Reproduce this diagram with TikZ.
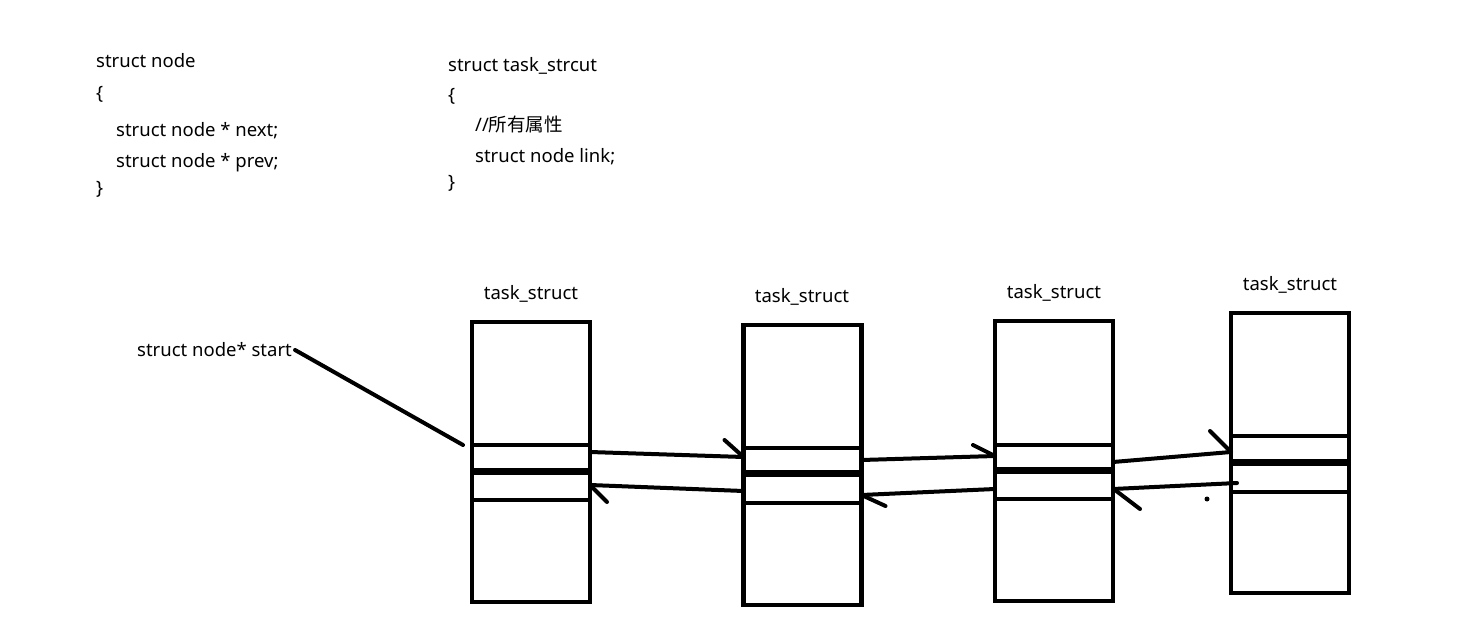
\documentclass[tikz,border=0pt]{standalone}
\usepackage{fontspec}
\setmainfont{Noto Sans}
\newfontfamily\cjk{Noto Sans CJK SC}
\begin{document}
\begin{tikzpicture}[x=1pt,y=-1pt,
  txt/.style={anchor=base west,inner sep=0pt,font=\fontsize{18.5}{22}\selectfont},
  lbl/.style={anchor=base,inner sep=0pt,font=\fontsize{18.5}{22}\selectfont},
  box/.style={draw,line width=4.5pt,minimum width=118pt,minimum height=280pt,inner sep=0pt,outer sep=0pt},
  slot/.style={line width=4pt},
  mid/.style={line width=7pt},
  link/.style={line width=4pt,line cap=round},
  barb/.style={line width=4pt,line cap=round}]
\useasboundingbox (0,0) rectangle (1477,631);
% code text
\node[txt] (t1) at (96,68) {struct node};
\node[txt] (t2) at (96,100) {\{};
\node[txt] (t3) at (116,137) {struct node * next;};
\node[txt] (t4) at (116,168) {struct node * prev;};
\node[txt] (t5) at (96,194) {\}};
\node[txt] (u1) at (448,72) {struct task\_strcut};
\node[txt] (u2) at (448,102) {\{};
\node[txt] (u3) at (475,132) {//{\cjk 所有属性}};
\node[txt] (u4) at (475,163) {struct node link;};
\node[txt] (u5) at (448,189) {\}};
% boxes
\node[box] (b1) at (531,462) {};
\node[box] (b2) at (802.5,465) {};
\node[box] (b3) at (1054,461) {};
\node[box] (b4) at (1290,453) {};
\node[lbl] (l1) at (531,299) {task\_struct};
\node[lbl] (l2) at (802,302) {task\_struct};
\node[lbl] (l3) at (1054,298) {task\_struct};
\node[lbl] (l4) at (1290,290) {task\_struct};
% slots
\draw[slot] (b1.west |- 0,445) -- (b1.east |- 0,445);
\draw[mid]  (b1.west |- 0,471) -- (b1.east |- 0,471);
\draw[slot] (b1.west |- 0,500) -- (b1.east |- 0,500);
\draw[slot] (b2.west |- 0,448) -- (b2.east |- 0,448);
\draw[mid]  (b2.west |- 0,473) -- (b2.east |- 0,473);
\draw[slot] (b2.west |- 0,503) -- (b2.east |- 0,503);
\draw[slot] (b3.west |- 0,445) -- (b3.east |- 0,445);
\draw[mid]  (b3.west |- 0,470) -- (b3.east |- 0,470);
\draw[slot] (b3.west |- 0,499) -- (b3.east |- 0,499);
\draw[slot] (b4.west |- 0,436) -- (b4.east |- 0,436);
\draw[mid]  (b4.west |- 0,462) -- (b4.east |- 0,462);
\draw[slot] (b4.west |- 0,492) -- (b4.east |- 0,492);
% start pointer
\node[txt] (st) at (137,356) {struct node* start};
\coordinate (sp) at (463,445);
\draw[link] (st.east |- 0,350) ++(3,0) -- (sp);
% next links
\coordinate (n1a) at (b1.east |- 0,452);
\coordinate (n1b) at (b2.west |- 0,457);
\draw[link] (n1a) -- (n1b);
\draw[barb] (n1b) -- ++(-19,-17);
\coordinate (n2a) at (b2.east |- 0,460);
\coordinate (n2b) at (b3.west |- 0,456);
\draw[link] (n2a) -- (n2b);
\draw[barb] (n2b) -- ++(-22,-11);
\coordinate (n3a) at (b3.east |- 0,462);
\coordinate (n3b) at (b4.west |- 0,452);
\draw[link] (n3a) -- (n3b);
\draw[barb] (n3b) -- ++(-21,-21);
% prev links
\coordinate (p1a) at (b2.west |- 0,491);
\coordinate (p1b) at (b1.east |- 0,485);
\draw[link] (p1a) -- (p1b);
\draw[barb] (p1b) ++(1,1) -- ++(16,16);
\coordinate (p2a) at (b3.west |- 0,489);
\coordinate (p2b) at (b2.east |- 0,495);
\draw[link] (p2a) -- (p2b);
\draw[barb] (p2b) -- ++(24,11);
\coordinate (p3a) at (1237,483);
\coordinate (p3b) at (b3.east |- 0,489);
\draw[link] (p3a) -- (p3b);
\draw[barb] (p3b) ++(2,1) -- ++(25,19);
\fill (1207,499) circle (2.5);
\end{tikzpicture}
\end{document}
